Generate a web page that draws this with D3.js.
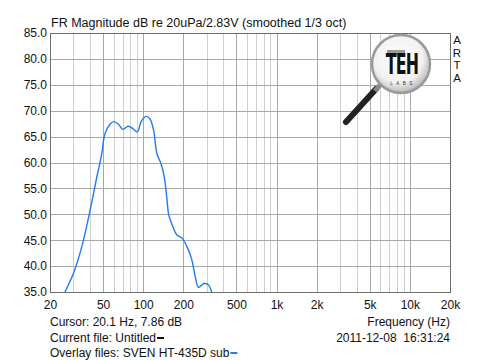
<!DOCTYPE html>
<html>
<head>
<meta charset="utf-8">
<script src="https://cdn.jsdelivr.net/npm/d3@7"></script>
<style>
  body { margin: 0; background: #fff; }
  svg { display: block; font-family: "Liberation Sans", Arial, sans-serif; }
</style>
</head>
<body>
<div id="chart"></div>
<script>
// frequency response (Hz, dB)
const freqs = [25.9, 29.9, 34.6, 40, 44.9, 48.9, 51.6, 56.4, 60.2, 65.2, 70.4, 77.1, 83.1, 90.3,
  96.9, 105.2, 112.5, 119.7, 126.8, 135.9, 143.9, 150.9, 155.3, 164.6, 178.9, 195.5, 212.6,
  231.2, 245, 259.9, 282.8, 307.6, 326];
const levels = [35.0, 38.5, 43.7, 50.8, 57.2, 61.7, 65.5, 67.4, 67.9, 67.4, 66.4, 67.0, 66.6, 65.9,
  68.0, 68.9, 68.4, 66.2, 61.7, 59.8, 57.2, 52.8, 49.9, 48.0, 46.0, 45.4, 43.8,
  41.3, 38.1, 35.9, 36.6, 36.4, 35.0];

const xTickValues = [20, 50, 100, 200, 500, 1000, 2000, 5000, 10000, 20000];
const xTickLabels = ['20', '50', '100', '200', '500', '1k', '2k', '5k', '10k', '20k'];
const yTickValues = [35, 40, 45, 50, 55, 60, 65, 70, 75, 80, 85];

const title = 'FR Magnitude dB re 20uPa/2.83V (smoothed 1/3 oct)';
const cursorText = 'Cursor: 20.1 Hz, 7.86 dB';
const currentFile = 'Current file: Untitled';
const overlayFile = 'Overlay files: SVEN HT-435D sub';
const freqLabel = 'Frequency (Hz)';
const stamp = '2011-12-08  16:31:24';

const width = 500, height = 360;
const margin = { top: 33, right: 50, bottom: 68, left: 50 };
const w = width - margin.left - margin.right;
const h = height - margin.top - margin.bottom;

const svg = d3.select('#chart').append('svg')
  .attr('width', width)
  .attr('height', height);

const x = d3.scaleLog().domain([20, 20000]).range([0, w]);
const y = d3.scaleLinear().domain([35, 85]).range([h, 0]);

const g = svg.append('g')
  .attr('transform', `translate(${margin.left}, ${margin.top})`);

// minor grid: every 1..9 in each decade
const minor = [];
[10, 100, 1000, 10000].forEach(d => {
  for (let k = 1; k <= 9; k++) {
    const f = d * k;
    if (f > 20 && f < 20000) minor.push(f);
  }
});
g.selectAll('.vgrid')
  .data(minor)
  .enter().append('line')
  .attr('class', 'vgrid')
  .attr('x1', d => Math.round(x(d)) + 0.5)
  .attr('x2', d => Math.round(x(d)) + 0.5)
  .attr('y1', 0)
  .attr('y2', h)
  .style('stroke', d => xTickValues.includes(d) ? '#a8a8a8' : '#cfcfcf')
  .style('stroke-width', 1);

g.selectAll('.hgrid')
  .data(yTickValues.slice(1, -1))
  .enter().append('line')
  .attr('class', 'hgrid')
  .attr('x1', 0)
  .attr('x2', w)
  .attr('y1', d => Math.round(y(d)) + 0.5)
  .attr('y2', d => Math.round(y(d)) + 0.5)
  .style('stroke', '#a8a8a8');

// curve
g.append('clipPath').attr('id', 'clip')
  .append('rect').attr('width', w).attr('height', h);

const pts = freqs.map((f, i) => [f, levels[i]]);
const line = d3.line()
  .x(d => x(d[0]))
  .y(d => y(d[1]))
  .curve(d3.curveCatmullRom);

g.append('path')
  .datum(pts)
  .attr('clip-path', 'url(#clip)')
  .attr('d', line)
  .style('fill', 'none')
  .style('stroke', '#1f7cf2')
  .style('stroke-width', 1.4);

// frame
g.append('rect')
  .attr('x', 0.5).attr('y', 0.5)
  .attr('width', w).attr('height', h)
  .style('fill', 'none')
  .style('stroke', '#6e6e6e');

// axes
const xAxis = g.append('g')
  .attr('transform', `translate(0, ${h})`)
  .call(d3.axisBottom(x).tickValues(xTickValues).tickSize(0).tickPadding(8)
    .tickFormat((d, i) => xTickLabels[i]));
const yAxis = g.append('g')
  .call(d3.axisLeft(y).tickValues(yTickValues).tickSize(0).tickPadding(3)
    .tickFormat(d3.format('.1f')));
[xAxis, yAxis].forEach(a => {
  a.select('.domain').remove();
  a.selectAll('text')
    .style('font-family', '"Liberation Sans", Arial, sans-serif')
    .style('font-size', '12px')
    .style('fill', '#111');
});

// texts
svg.append('text')
  .attr('x', 51).attr('y', 27)
  .style('font-size', '12.5px').style('fill', '#111')
  .text(title);

// ARTA, one letter per line on the right
svg.selectAll('.arta')
  .data('ARTA'.split(''))
  .enter().append('text')
  .attr('class', 'arta')
  .attr('x', 457)
  .attr('y', (d, i) => 44 + i * 12.5)
  .attr('text-anchor', 'middle')
  .style('font-size', '11.5px').style('fill', '#111')
  .text(d => d);

const foot = svg.append('g').style('font-size', '12px').style('fill', '#111');
foot.append('text').attr('x', 50).attr('y', 326).text(cursorText);
const cf = foot.append('text').attr('x', 50).attr('y', 342).text(currentFile);
const ov = foot.append('text').attr('x', 50).attr('y', 357).text(overlayFile);
const cfw = cf.node().getComputedTextLength();
const ovw = ov.node().getComputedTextLength();
svg.append('line')
  .attr('x1', 50 + cfw + 1).attr('x2', 50 + cfw + 8)
  .attr('y1', 338).attr('y2', 338)
  .style('stroke', '#111').style('stroke-width', 2);
svg.append('line')
  .attr('x1', 50 + ovw + 1).attr('x2', 50 + ovw + 8)
  .attr('y1', 353).attr('y2', 353)
  .style('stroke', '#1f7cf2').style('stroke-width', 2);
foot.append('text').attr('x', 450).attr('y', 326).attr('text-anchor', 'end').text(freqLabel);
foot.append('text').attr('x', 450).attr('y', 342).attr('text-anchor', 'end')
  .style('white-space', 'pre').text(stamp);

// logo: magnifying glass
const defs = svg.append('defs');
const rg = defs.append('radialGradient').attr('id', 'lens').attr('cx', '45%').attr('cy', '40%').attr('r', '60%');
rg.append('stop').attr('offset', '0%').attr('stop-color', '#ffffff');
rg.append('stop').attr('offset', '70%').attr('stop-color', '#f2f2f2');
rg.append('stop').attr('offset', '100%').attr('stop-color', '#b8b8b8');

const logo = svg.append('g');
logo.append('line')
  .attr('x1', 376).attr('y1', 89).attr('x2', 346).attr('y2', 122)
  .style('stroke', '#222').style('stroke-width', 6).style('stroke-linecap', 'round');
logo.append('line')
  .attr('x1', 380).attr('y1', 85).attr('x2', 375).attr('y2', 91)
  .style('stroke', '#888').style('stroke-width', 5);
logo.append('circle')
  .attr('cx', 401).attr('cy', 64).attr('r', 29)
  .style('fill', 'url(#lens)').style('stroke', '#9a9a9a').style('stroke-width', 2.5);
logo.append('rect')
  .attr('x', 387).attr('y', 50).attr('width', 18).attr('height', 5)
  .style('fill', '#9a9a9a');
logo.append('text')
  .attr('transform', 'translate(402, 74) scale(0.8, 1.3)')
  .attr('text-anchor', 'middle')
  .style('font-size', '22px').style('font-weight', 'bold').style('letter-spacing', '-1px')
  .style('font-family', '"DejaVu Sans Condensed", "Liberation Sans Narrow", sans-serif')
  .style('fill', '#111')
  .text('TEH');
logo.append('text')
  .attr('x', 403).attr('y', 85).attr('text-anchor', 'middle')
  .style('font-size', '4.5px').style('letter-spacing', '3.5px').style('fill', '#333')
  .text('LABS');
</script>
</body>
</html>
